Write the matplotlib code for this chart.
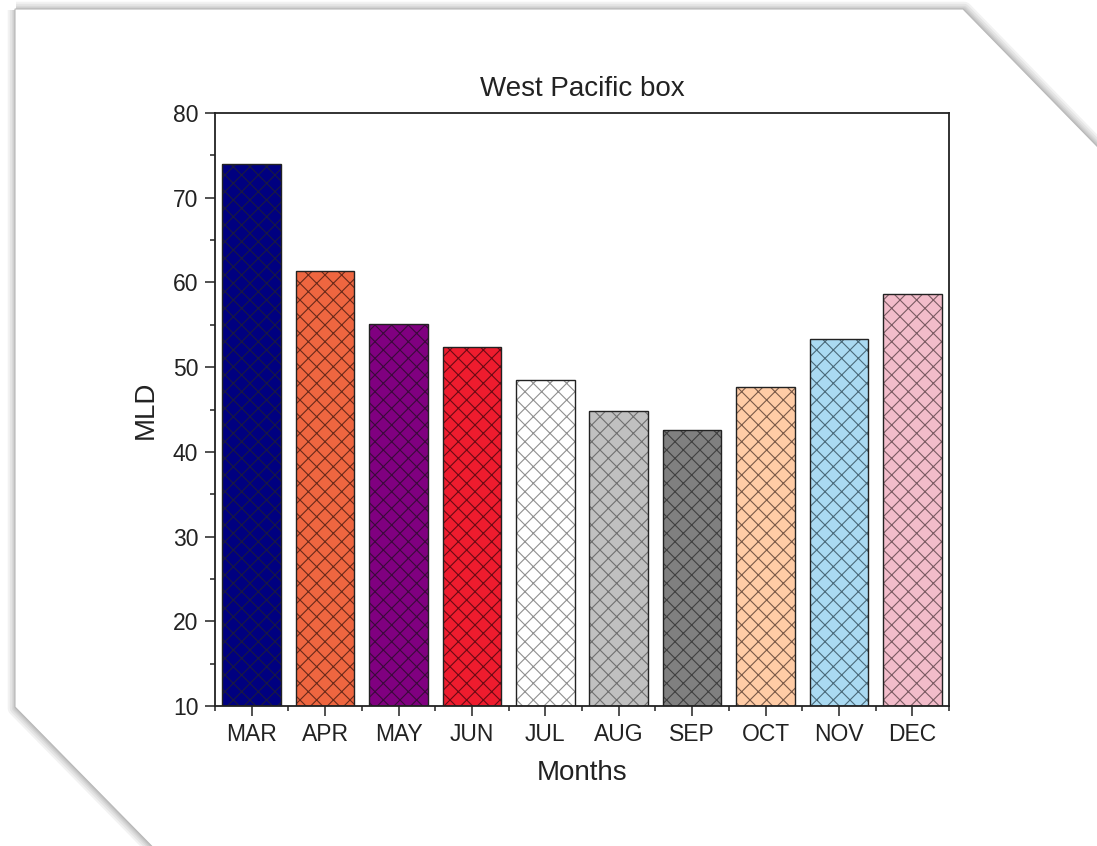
import matplotlib
matplotlib.use("Agg")
import matplotlib.pyplot as plt
from matplotlib.patches import Polygon
from matplotlib.ticker import MultipleLocator, FixedLocator
import numpy as np

plt.rcParams['font.family'] = ['Liberation Sans', 'DejaVu Sans']
plt.rcParams['hatch.linewidth'] = 0.8

# data
months = ["MAR", "APR", "MAY", "JUN", "JUL", "AUG", "SEP", "OCT", "NOV", "DEC"]
mld = [74.0, 61.4, 55.1, 52.4, 48.5, 44.8, 42.6, 47.7, 53.3, 58.6]
colors = ["#000080", "#EE6640", "#800080", "#EE1C2E", "#FFFFFF",
          "#C0C0C0", "#808080", "#FFCCA6", "#AADAF2", "#F2BCCA"]
hatch_colors = ["#1a1a40", "#6a2a1a", "#3a0a3a", "#6a0a14", "#909090",
                "#707070", "#404040", "#7a5a48", "#4a6a7a", "#7a5a62"]

W, H = 1097, 846
fig = plt.figure(figsize=(W / 100, H / 100), dpi=100)

# background "paper" with cut corners and a soft shadow
bg = fig.add_axes([0, 0, 1, 1])
bg.set_xlim(0, W)
bg.set_ylim(H, 0)
bg.axis('off')
paper = [(15, 9), (963, 9), (1130, 180), (1130, 880), (185, 880), (15, 707)]
for lw in [12, 9, 6, 4, 2]:
    bg.add_patch(Polygon([(x + 1, y + 1) for x, y in paper], closed=True,
                         facecolor='none', edgecolor='black', alpha=0.05,
                         linewidth=lw, joinstyle='round'))
bg.add_patch(Polygon(paper, closed=True, facecolor='white', edgecolor='#b8b8b8',
                     linewidth=0.8))

ax = fig.add_axes([215 / W, (H - 706) / H, 734 / W, 593 / H])
x = np.arange(len(months))
for i in range(len(months)):
    ax.bar(x[i], mld[i] - 10, bottom=10, width=0.8, color=colors[i],
           hatch='xx', edgecolor=hatch_colors[i], linewidth=0, zorder=2)
ax.bar(x, np.array(mld) - 10, bottom=10, width=0.8, fill=False,
       edgecolor='#222222', linewidth=1.0, zorder=3)

ax.set_xlim(-0.5, len(months) - 0.5)
ax.set_ylim(10, 80)
ax.set_xticks(x)
ax.set_xticklabels(months)
ax.xaxis.set_minor_locator(FixedLocator(np.arange(-0.5, len(months), 1.0)))
ax.yaxis.set_major_locator(MultipleLocator(10))
ax.yaxis.set_minor_locator(MultipleLocator(5))
ax.tick_params(which='major', direction='out', length=7, width=1.1,
               labelsize=16.5, colors='#222222', pad=5)
ax.tick_params(which='minor', direction='out', length=3.5, width=1.1,
               colors='#222222')
for s in ax.spines.values():
    s.set_linewidth(1.3)
    s.set_color('#222222')

ax.set_title("West Pacific box", fontsize=20, pad=12, color='#222222')
ax.set_xlabel("Months", fontsize=20, labelpad=10, color='#222222')
ax.set_ylabel("MLD", fontsize=20, labelpad=10, color='#222222')

fig.savefig("out.png", dpi=100)
